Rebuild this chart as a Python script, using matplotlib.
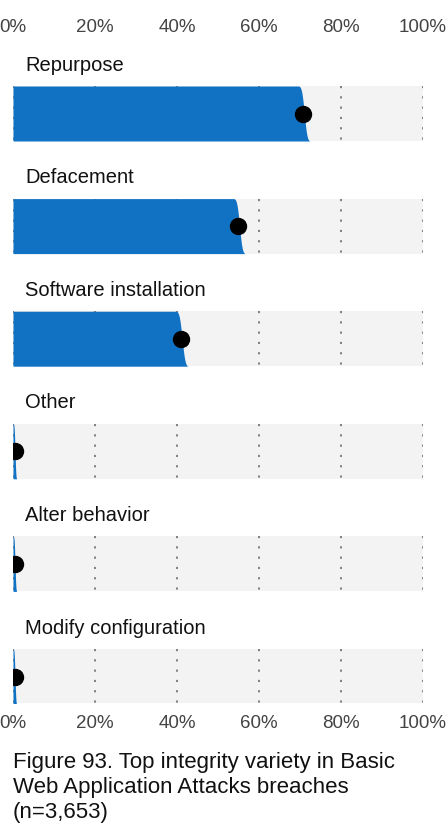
import numpy as np
import matplotlib.pyplot as plt
from statistics import NormalDist

categories = ['Repurpose', 'Defacement', 'Software installation',
              'Other', 'Alter behavior', 'Modify configuration']
values = [70.7, 54.9, 41.0, 0.5, 0.5, 0.5]
lows = [69.7, 53.9, 39.8, 0.1, 0.1, 0.1]
highs = [72.4, 56.6, 42.7, 0.9, 0.9, 0.9]
ticks = [0, 20, 40, 60, 80, 100]
tick_labels = ['0%', '20%', '40%', '60%', '80%', '100%']
caption = ['Figure 93. Top integrity variety in Basic',
           'Web Application Attacks breaches',
           '(n=3,653)']

plt.rcParams['font.family'] = ['Liberation Sans', 'DejaVu Sans']

W, H = 447, 835
fig = plt.figure(figsize=(W / 100, H / 100), dpi=100)
top_px, bot_px = 48, 703
ax = fig.add_axes([13 / W, 1 - bot_px / H, 410 / W, (bot_px - top_px) / H])
ax.set_xlim(0, 100)
ax.set_ylim(bot_px, top_px)  # y data runs in pixel rows

blue = '#1172c4'
band_h = 55
pitch = 112.6
first_top = 86

nd = NormalDist()
p = np.linspace(0.005, 0.995, 200)
z = np.array([nd.inv_cdf(q) for q in p])

for i, cat in enumerate(categories):
    y0 = first_top + i * pitch
    y1 = y0 + band_h
    yc = (y0 + y1) / 2
    ax.barh(yc, 100, height=band_h, left=0, color='#f3f3f3', zorder=1)
    ax.vlines(ticks, y0, y1, colors='#777777', linestyles=(0, (1.2, 4.5)),
              linewidth=1.3, zorder=2)
    mu = (lows[i] + highs[i]) / 2
    sd = (highs[i] - lows[i]) / (2 * 2.576)
    ys = np.linspace(y0, y1, len(p))
    ax.fill_betweenx(ys, 0, mu + sd * z, color=blue, linewidth=0, zorder=3)
    ax.plot(values[i], yc, 'o', ms=11.5, color='black', zorder=4)
    ax.text(2.9, y0 - 21, cat, fontsize=14.5, color='#111111', va='center', ha='left')

ax.set_xticks(ticks)
ax.set_xticklabels(tick_labels)
ax.set_yticks([])
ax.tick_params(axis='x', top=True, labeltop=True, bottom=True, labelbottom=True,
               length=0, pad=8.6, labelsize=13.5, labelcolor='#444444')
for s in ax.spines.values():
    s.set_visible(False)

for j, line in enumerate(caption):
    fig.text(13 / W, 1 - (768 + j * 25) / H, line, fontsize=16,
             color='#111111', va='baseline', ha='left')

fig.savefig('out.png', dpi=100)
